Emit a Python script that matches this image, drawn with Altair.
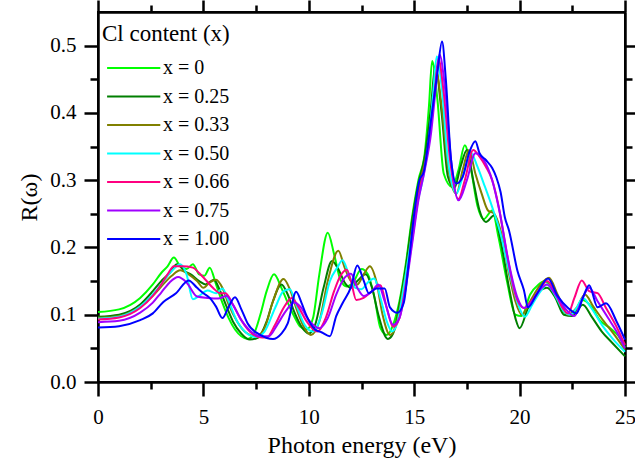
import altair as alt
import pandas as pd

series_labels = ["x = 0", "x = 0.25", "x = 0.33", "x = 0.50", "x = 0.66", "x = 0.75", "x = 1.00"]
series_colors = ["#00FF00", "#007F00", "#808000", "#00FFFF", "#FF0080", "#A000FF", "#0000FF"]

x_major = [0, 5, 10, 15, 20, 25]
x_minor = [2.5, 7.5, 12.5, 17.5, 22.5]
y_major = [0.0, 0.1, 0.2, 0.3, 0.4, 0.5]
y_minor = [0.05, 0.15, 0.25, 0.35, 0.45]

curve_x000 = [(0, 0.104), (1.0, 0.108), (2.0, 0.125), (2.6, 0.145), (3.0, 0.162), (3.3, 0.172), (3.6, 0.185),
              (3.9, 0.172), (4.2, 0.168), (4.5, 0.175), (4.8, 0.160), (5.05, 0.158), (5.3, 0.170), (5.6, 0.145),
              (5.9, 0.118), (6.2, 0.095), (6.5, 0.078), (6.8, 0.068), (7.1, 0.064), (7.4, 0.072), (7.7, 0.100),
              (8.0, 0.135), (8.35, 0.160), (8.7, 0.140), (9.0, 0.118), (9.3, 0.098), (9.6, 0.082), (9.9, 0.078),
              (10.2, 0.095), (10.5, 0.160), (10.9, 0.222), (11.2, 0.190), (11.5, 0.152), (11.8, 0.142),
              (12.1, 0.148), (12.5, 0.168), (12.8, 0.160), (13.1, 0.128), (13.4, 0.080), (13.7, 0.070),
              (14.0, 0.085), (14.3, 0.120), (14.6, 0.175), (14.9, 0.245), (15.2, 0.300), (15.5, 0.340),
              (15.7, 0.410), (15.85, 0.477), (16.1, 0.420), (16.4, 0.310), (16.8, 0.290), (17.1, 0.315),
              (17.4, 0.352), (17.7, 0.315), (18.0, 0.262), (18.3, 0.242), (18.7, 0.255), (19.0, 0.215),
              (19.4, 0.150), (19.8, 0.100), (20.1, 0.098), (20.5, 0.130), (20.9, 0.145), (21.2, 0.150),
              (21.6, 0.135), (22.0, 0.108), (22.4, 0.100), (22.7, 0.108), (23.0, 0.122), (23.4, 0.112),
              (23.8, 0.092), (24.3, 0.080), (24.7, 0.068), (25.0, 0.052)]

curve_x025 = [(0, 0.097), (1.0, 0.100), (2.0, 0.115), (2.6, 0.135), (3.0, 0.150), (3.4, 0.162), (3.75, 0.175),
              (4.1, 0.165), (4.4, 0.160), (4.8, 0.150), (5.1, 0.145), (5.5, 0.152), (5.8, 0.135), (6.1, 0.112),
              (6.4, 0.090), (6.8, 0.072), (7.2, 0.063), (7.6, 0.066), (8.0, 0.090), (8.3, 0.120), (8.7, 0.145),
              (9.0, 0.130), (9.3, 0.105), (9.7, 0.080), (10.0, 0.072), (10.3, 0.085), (10.7, 0.140),
              (11.1, 0.180), (11.4, 0.168), (11.7, 0.148), (12.0, 0.140), (12.3, 0.150), (12.7, 0.160),
              (13.0, 0.140), (13.3, 0.100), (13.75, 0.064), (14.0, 0.072), (14.3, 0.115), (14.6, 0.170),
              (14.9, 0.240), (15.2, 0.295), (15.5, 0.335), (15.8, 0.410), (16.0, 0.470), (16.3, 0.400),
              (16.6, 0.305), (16.9, 0.288), (17.2, 0.320), (17.5, 0.345), (17.8, 0.300), (18.1, 0.255),
              (18.4, 0.238), (18.8, 0.248), (19.1, 0.210), (19.5, 0.140), (19.8, 0.095), (20.0, 0.080),
              (20.4, 0.110), (20.8, 0.130), (21.3, 0.140), (21.7, 0.125), (22.1, 0.100), (22.5, 0.098),
              (23.0, 0.115), (23.4, 0.098), (23.9, 0.075), (24.4, 0.058), (25.0, 0.038)]

curve_x033 = [(0, 0.095), (1.0, 0.098), (2.0, 0.112), (2.6, 0.128), (3.0, 0.142), (3.5, 0.158), (3.9, 0.166),
              (4.3, 0.160), (4.7, 0.150), (5.0, 0.140), (5.3, 0.148), (5.6, 0.152), (5.9, 0.140), (6.2, 0.115),
              (6.6, 0.090), (7.0, 0.074), (7.5, 0.068), (7.9, 0.080), (8.3, 0.120), (8.8, 0.153), (9.1, 0.138),
              (9.4, 0.110), (9.8, 0.080), (10.1, 0.070), (10.5, 0.090), (10.9, 0.150), (11.4, 0.195),
              (11.7, 0.170), (12.0, 0.150), (12.3, 0.145), (12.6, 0.160), (12.9, 0.172), (13.2, 0.150),
              (13.5, 0.100), (13.85, 0.070), (14.1, 0.080), (14.4, 0.125), (14.7, 0.180), (15.0, 0.250),
              (15.3, 0.300), (15.6, 0.340), (15.85, 0.400), (16.05, 0.460), (16.3, 0.410), (16.6, 0.320),
              (17.0, 0.280), (17.3, 0.315), (17.6, 0.345), (17.9, 0.310), (18.2, 0.280), (18.5, 0.255),
              (18.8, 0.250), (19.1, 0.225), (19.5, 0.160), (19.8, 0.120), (20.1, 0.100), (20.5, 0.120),
              (21.0, 0.145), (21.4, 0.155), (21.8, 0.130), (22.3, 0.100), (22.7, 0.110), (23.1, 0.130),
              (23.5, 0.112), (24.0, 0.090), (24.5, 0.070), (25.0, 0.048)]

curve_x050 = [(0, 0.094), (1.0, 0.097), (2.0, 0.112), (2.6, 0.130), (3.0, 0.145), (3.5, 0.165), (3.9, 0.175),
              (4.2, 0.160), (4.5, 0.123), (4.8, 0.128), (5.2, 0.136), (5.6, 0.132), (5.9, 0.139), (6.2, 0.120),
              (6.6, 0.090), (7.0, 0.074), (7.5, 0.067), (7.9, 0.075), (8.4, 0.110), (8.8, 0.135), (9.1, 0.138),
              (9.4, 0.115), (9.8, 0.085), (10.2, 0.075), (10.6, 0.100), (11.0, 0.150), (11.35, 0.170),
              (11.6, 0.181), (11.9, 0.160), (12.2, 0.140), (12.5, 0.138), (12.8, 0.148), (13.1, 0.154),
              (13.4, 0.125), (13.7, 0.090), (13.95, 0.075), (14.2, 0.088), (14.5, 0.140), (14.8, 0.200),
              (15.1, 0.260), (15.4, 0.300), (15.7, 0.360), (15.9, 0.430), (16.07, 0.484), (16.3, 0.440),
              (16.6, 0.330), (17.0, 0.280), (17.3, 0.305), (17.7, 0.340), (18.0, 0.320), (18.3, 0.295),
              (18.7, 0.260), (19.1, 0.220), (19.5, 0.165), (19.9, 0.118), (20.25, 0.097), (20.6, 0.115),
              (21.0, 0.135), (21.3, 0.145), (21.7, 0.128), (22.1, 0.105), (22.4, 0.100), (22.7, 0.110),
              (23.0, 0.125), (23.4, 0.110), (23.9, 0.085), (24.4, 0.065), (25.0, 0.045)]

curve_x066 = [(0, 0.093), (1.0, 0.096), (2.0, 0.110), (2.6, 0.128), (3.0, 0.145), (3.3, 0.160), (3.6, 0.172),
              (4.0, 0.172), (4.5, 0.170), (4.8, 0.162), (5.1, 0.152), (5.45, 0.140), (5.8, 0.132), (6.05, 0.132),
              (6.4, 0.115), (6.8, 0.092), (7.2, 0.075), (7.6, 0.067), (8.0, 0.066), (8.4, 0.085), (8.8, 0.110),
              (9.2, 0.125), (9.5, 0.112), (9.9, 0.090), (10.4, 0.075), (10.8, 0.095), (11.2, 0.135),
              (11.5, 0.158), (11.8, 0.167), (12.0, 0.150), (12.25, 0.122), (12.6, 0.125), (13.0, 0.135),
              (13.4, 0.144), (13.7, 0.110), (14.0, 0.082), (14.3, 0.095), (14.6, 0.145), (14.9, 0.210),
              (15.2, 0.275), (15.5, 0.320), (15.8, 0.380), (16.0, 0.440), (16.15, 0.480), (16.4, 0.430),
              (16.7, 0.330), (17.1, 0.272), (17.4, 0.300), (17.8, 0.345), (18.1, 0.335), (18.4, 0.320),
              (18.7, 0.300), (19.0, 0.262), (19.4, 0.190), (19.8, 0.130), (20.2, 0.110), (20.6, 0.122),
              (21.0, 0.140), (21.3, 0.150), (21.7, 0.132), (22.0, 0.112), (22.3, 0.102), (22.6, 0.125),
              (22.95, 0.151), (23.3, 0.135), (23.7, 0.132), (24.1, 0.110), (24.6, 0.082), (25.0, 0.055)]

curve_x075 = [(0, 0.089), (1.0, 0.091), (2.0, 0.103), (2.6, 0.118), (3.0, 0.133), (3.4, 0.148), (3.8, 0.156),
              (4.2, 0.148), (4.7, 0.127), (5.2, 0.125), (5.7, 0.124), (6.1, 0.128), (6.4, 0.115), (6.8, 0.092),
              (7.3, 0.074), (7.7, 0.068), (8.1, 0.068), (8.5, 0.085), (8.9, 0.105), (9.3, 0.118), (9.6, 0.112),
              (10.0, 0.092), (10.5, 0.080), (10.9, 0.095), (11.3, 0.130), (11.7, 0.155), (12.0, 0.161),
              (12.3, 0.140), (12.6, 0.128), (13.0, 0.135), (13.3, 0.145), (13.6, 0.120), (14.0, 0.085),
              (14.3, 0.095), (14.6, 0.140), (14.9, 0.205), (15.2, 0.270), (15.5, 0.315), (15.8, 0.370),
              (16.0, 0.430), (16.2, 0.487), (16.45, 0.440), (16.75, 0.330), (17.1, 0.270), (17.5, 0.300),
              (17.9, 0.340), (18.3, 0.330), (18.7, 0.300), (19.07, 0.250), (19.5, 0.175), (19.9, 0.125),
              (20.2, 0.110), (20.6, 0.120), (21.0, 0.138), (21.3, 0.145), (21.7, 0.130), (22.2, 0.108),
              (22.6, 0.098), (22.9, 0.118), (23.3, 0.140), (23.7, 0.120), (24.2, 0.095), (24.6, 0.075),
              (25.0, 0.050)]

curve_x100 = [(0, 0.081), (1.0, 0.083), (2.0, 0.092), (2.6, 0.102), (3.1, 0.119), (3.7, 0.132), (4.3, 0.151),
              (4.7, 0.140), (5.0, 0.132), (5.3, 0.125), (5.6, 0.112), (5.9, 0.095), (6.2, 0.112), (6.5, 0.126),
              (6.8, 0.108), (7.1, 0.087), (7.7, 0.070), (8.3, 0.064), (8.7, 0.072), (9.0, 0.087), (9.4, 0.134),
              (9.65, 0.118), (9.9, 0.098), (10.3, 0.078), (10.6, 0.074), (11.0, 0.068), (11.3, 0.098),
              (11.6, 0.117), (12.0, 0.141), (12.3, 0.173), (12.6, 0.151), (12.85, 0.132), (13.2, 0.139),
              (13.6, 0.139), (13.85, 0.111), (14.2, 0.103), (14.5, 0.117), (14.75, 0.180), (15.0, 0.250),
              (15.25, 0.300), (15.45, 0.312), (15.8, 0.390), (16.1, 0.460), (16.32, 0.506), (16.5, 0.450),
              (16.75, 0.330), (17.0, 0.295), (17.3, 0.305), (17.6, 0.340), (17.9, 0.358), (18.1, 0.340),
              (18.4, 0.330), (18.7, 0.318), (18.9, 0.304), (19.1, 0.282), (19.3, 0.245), (19.5, 0.225),
              (19.9, 0.165), (20.2, 0.137), (20.4, 0.111), (20.8, 0.130), (21.35, 0.154), (21.8, 0.128),
              (22.3, 0.110), (22.7, 0.102), (23.0, 0.125), (23.3, 0.144), (23.7, 0.111), (24.1, 0.117),
              (24.6, 0.090), (25.0, 0.063)]

curves = [curve_x000, curve_x025, curve_x033, curve_x050, curve_x066, curve_x075, curve_x100]

rows = []
for k, (label, curve) in enumerate(zip(series_labels, curves)):
    for i, (e, r) in enumerate(curve):
        rows.append({"E": e, "R": r, "series": label, "sidx": k, "order": i})
df = pd.DataFrame(rows)

FONT = "'Liberation Serif', 'Times New Roman', Times, serif"
xscale = alt.Scale(domain=[0, 25], nice=False, zero=False)
yscale = alt.Scale(domain=[0, 0.55], nice=False, zero=True)

ax_style = dict(labelFont=FONT, titleFont=FONT, labelFontSize=21, titleFontSize=24,
                titleFontWeight="normal", labelColor="black", titleColor="black")


def tick_axis(values, orient, size):
    return alt.Axis(values=values, orient=orient, title=None, labels=False, tickSize=size,
                    domain=True, grid=False)


x_axis = alt.Axis(values=x_major, title="Photon energy (eV)", format="d", tickSize=14,
                  labelPadding=10, titlePadding=6, labelFlush=False, labelOverlap=False, **ax_style)
y_axis = alt.Axis(values=y_major, title="R(\u03c9)", format=".1f", tickSize=14,
                  labelPadding=8, titlePadding=8, labelFlush=False, labelOverlap=False, **ax_style)

legend = alt.Legend(title="Cl content (x)", orient="none", legendX=4, legendY=11,
                    symbolType="M-0.7,0H6.9", symbolSize=196, symbolStrokeWidth=2,
                    labelOffset=41, titlePadding=12, rowPadding=8.5, padding=0)

lines = alt.Chart(df).mark_line(strokeWidth=2, interpolate="monotone").encode(
    x=alt.X("E:Q", scale=xscale, axis=x_axis),
    y=alt.Y("R:Q", scale=yscale, axis=y_axis),
    color=alt.Color("series:N", scale=alt.Scale(domain=series_labels, range=series_colors), legend=legend),
    detail="sidx:O",
    order="order:Q",
)


def guide_layer(xa, ya):
    return alt.Chart(df).mark_line(strokeOpacity=0).encode(
        x=alt.X("E:Q", scale=xscale, axis=xa),
        y=alt.Y("R:Q", scale=yscale, axis=ya),
        detail="sidx:O",
    )


minor_bl = guide_layer(tick_axis(x_minor, "bottom", 7), tick_axis(y_minor, "left", 8))
major_tr = guide_layer(tick_axis(x_major, "top", 12), tick_axis(y_major, "right", 12))
minor_tr = guide_layer(tick_axis(x_minor, "top", 7), tick_axis(y_minor, "right", 7))

chart = (
    alt.layer(lines, minor_bl, major_tr, minor_tr)
    .resolve_axis(x="independent", y="independent")
    .properties(
        width=527, height=370,
        padding={"left": 98, "top": 12, "right": 10, "bottom": 77},
        autosize=alt.AutoSizeParams(type="none"),
    )
    .configure(font=FONT, background="white",
               style={"guide-label": {"font": FONT}, "guide-title": {"font": FONT}})
    .configure_view(stroke="black", strokeWidth=2)
    .configure_axis(domainColor="black", domainWidth=2, tickColor="black", tickWidth=2.5, grid=False,
                    labelFont=FONT, titleFont=FONT)
    .configure_legend(labelFont=FONT, labelFontSize=20, labelColor="black",
                      titleFont=FONT, titleFontSize=23, titleFontWeight="normal", titleColor="black")
)

chart.save("out.html", embed_options={"renderer": "svg", "actions": False})
